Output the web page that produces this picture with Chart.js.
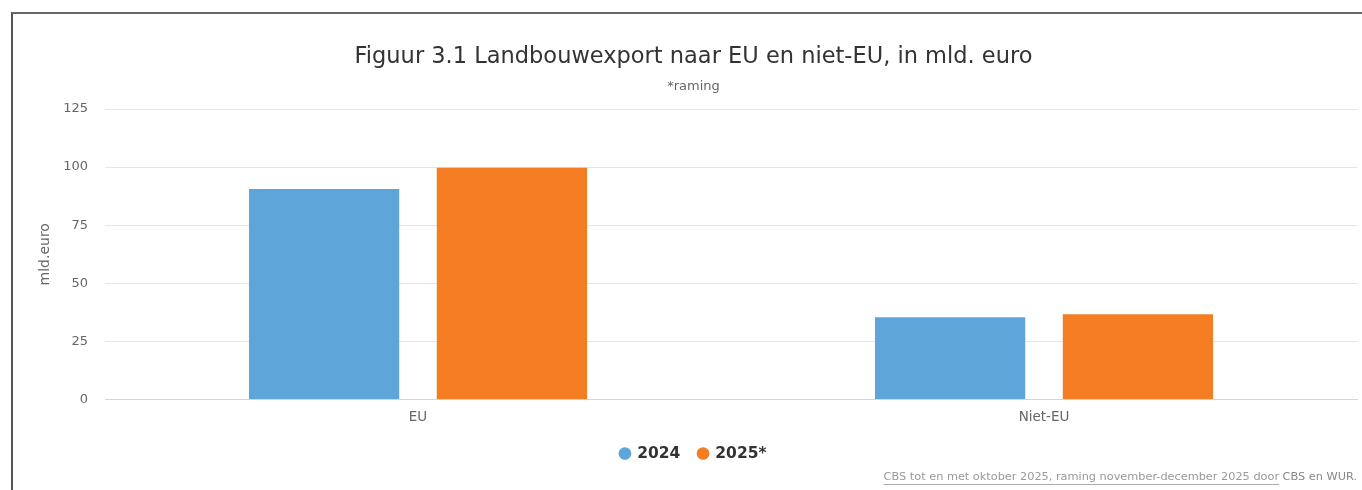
<!DOCTYPE html>
<html>
<head>
<meta charset="utf-8">
<script src="https://cdn.jsdelivr.net/npm/chart.js@4.4.1/dist/chart.umd.min.js"></script>
<style>
  html, body { margin: 0; padding: 0; background: #fff; }
  #wrap { position: relative; width: 1362px; height: 490px; }
  #frame { position: absolute; left: 11px; top: 12px; right: 0; bottom: 0;
           border-left: 2px solid #555; border-top: 2px solid #666; pointer-events: none; }
</style>
</head>
<body>
<div id="wrap">
  <canvas id="chart" width="1362" height="490"></canvas>
  <div id="frame"></div>
</div>
<script>
const categories = ["EU", "Niet-EU"];
const values2024 = [90.6, 35.4];
const values2025 = [99.7, 36.7];
const yTicks = [0, 25, 50, 75, 100, 125];

const FONT = "'DejaVu Sans', Verdana, sans-serif";

// credits line at the bottom right
const creditsPlugin = {
  id: "credits",
  afterDraw(chart) {
    const ctx = chart.ctx;
    ctx.save();
    ctx.font = "11.3px " + FONT;
    ctx.textBaseline = "middle";
    const part1 = "CBS tot en met oktober 2025, raming november-december 2025 door";
    const part2 = " CBS en WUR.";
    const right = 1357;
    const y = 477;
    const w2 = ctx.measureText(part2).width;
    const w1 = ctx.measureText(part1).width;
    const x1 = right - w2 - w1;
    ctx.fillStyle = "#999";
    ctx.textAlign = "left";
    ctx.fillText(part1, x1, y);
    ctx.fillStyle = "#888";
    ctx.fillText(part2, x1 + w1, y);
    ctx.strokeStyle = "#aaa";
    ctx.lineWidth = 1;
    ctx.beginPath();
    ctx.moveTo(x1, y + 7.5);
    ctx.lineTo(x1 + w1, y + 7.5);
    ctx.stroke();
    ctx.restore();
  }
};

const config = {
  type: "bar",
  data: {
    labels: categories,
    datasets: [
      {
        label: "2024",
        data: values2024,
        backgroundColor: "#5ea5d9",
        borderWidth: 0
      },
      {
        label: "2025*",
        data: values2025,
        backgroundColor: "#f47d23",
        borderWidth: 0
      }
    ]
  },
  options: {
    responsive: false,
    animation: false,
    categoryPercentage: 0.6,
    barPercentage: 0.8,
    layout: { padding: { left: 30, right: 5, top: 0, bottom: 18.75 } },
    plugins: {
      title: {
        display: true,
        text: "Figuur 3.1 Landbouwexport naar EU en niet-EU, in mld. euro",
        color: "#333",
        font: { family: FONT, size: 22.5, weight: "normal" },
        padding: { top: 44, bottom: 8 }
      },
      subtitle: {
        display: true,
        text: "*raming",
        color: "#666",
        font: { family: FONT, size: 13, weight: "normal" },
        padding: { top: 0, bottom: 14.4 }
      },
      legend: {
        position: "bottom",
        labels: {
          usePointStyle: true,
          pointStyle: "circle",
          boxWidth: 9,
          boxHeight: 9,
          padding: 18.25,
          color: "#333",
          font: { family: FONT, size: 15.5, weight: "bold" }
        }
      },
      tooltip: { enabled: false }
    },
    scales: {
      x: {
        afterFit(scale) {
          scale.height = 28;
        },
        grid: { display: false, drawTicks: false },
        border: { display: true, color: "#ccd6eb", width: 1 },
        ticks: { color: "#666", padding: 10, font: { family: FONT, size: 13.5 } }
      },
      y: {
        min: 0,
        max: 125,
        afterBuildTicks(scale) {
          scale.ticks = yTicks.map(v => ({ value: v }));
        },
        afterFit(scale) {
          scale.width = 75;
        },
        grid: { color: "#e6e6e6", drawTicks: false },
        border: { display: false },
        ticks: { color: "#666", padding: 17, font: { family: FONT, size: 13 } },
        title: {
          display: true,
          text: "mld.euro",
          color: "#666",
          font: { family: FONT, size: 14 },
          padding: { top: 6.5, bottom: 0 }
        }
      }
    }
  },
  plugins: [creditsPlugin]
};

new Chart(document.getElementById("chart").getContext("2d"), config);
</script>
</body>
</html>
